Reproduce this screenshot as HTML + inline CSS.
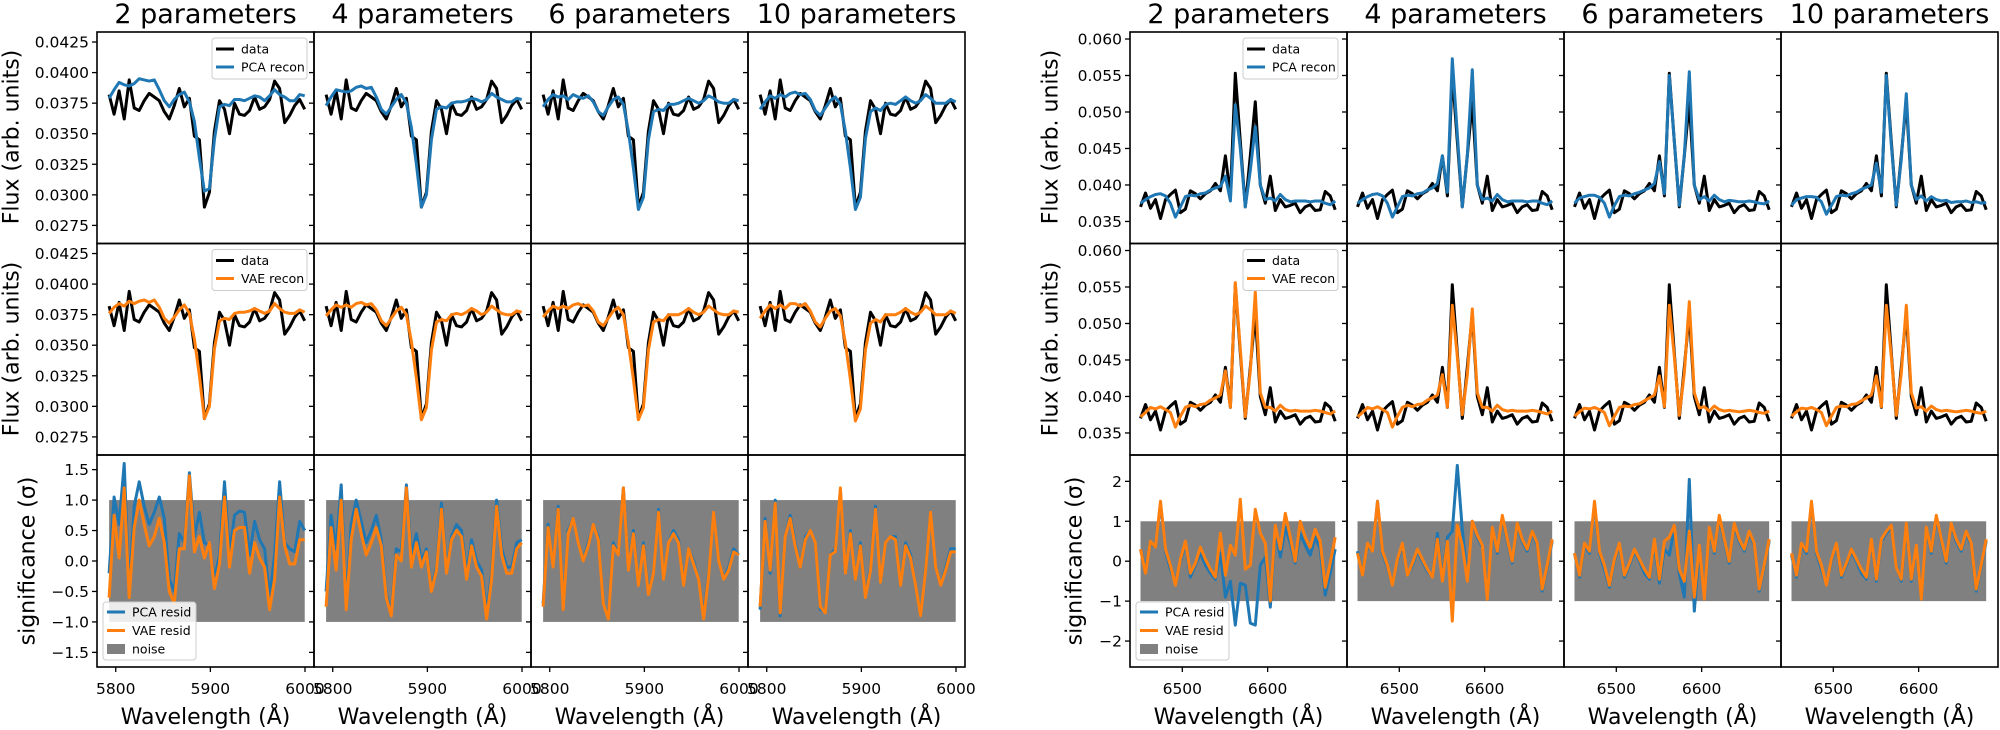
<!DOCTYPE html>
<html><head><meta charset="utf-8"><style>
html,body{margin:0;padding:0;background:#fff;}
svg{display:block;font-family:"DejaVu Sans","Liberation Sans",sans-serif;}
</style></head><body>
<svg id="c" width="2000" height="730" viewBox="0 0 2000 730"></svg>
<script>
// ---------- data ----------
const titles = ["2 parameters","4 parameters","6 parameters","10 parameters"];
// left (Na D region)
const leftStart = 5793, leftStep = 5.3;
const leftData = [0.0382,0.0366,0.0385,0.0362,0.0394,0.0371,0.0369,0.0377,0.0383,0.0380,0.0377,0.0368,0.0362,0.0373,0.0387,0.0372,0.0379,0.0348,0.0345,0.0290,0.0302,0.0352,0.0377,0.0370,0.0350,0.0375,0.0366,0.0365,0.0369,0.0380,0.0370,0.0372,0.0378,0.0393,0.0387,0.0359,0.0365,0.0373,0.0378,0.0370];
const leftPCA2 = [0.0379,0.0386,0.0392,0.0390,0.0389,0.0391,0.0395,0.0394,0.0393,0.0394,0.0386,0.0377,0.0372,0.0378,0.0382,0.0384,0.0376,0.0360,0.0330,0.0303,0.0305,0.0345,0.0372,0.0374,0.0373,0.0378,0.0378,0.0377,0.0379,0.0381,0.0380,0.0377,0.0381,0.0386,0.0382,0.0380,0.0377,0.0377,0.0382,0.0381];
const leftPCA4 = [0.0373,0.0380,0.0386,0.0385,0.0384,0.0385,0.0388,0.0389,0.0387,0.0388,0.0380,0.0370,0.0366,0.0372,0.0378,0.0382,0.0375,0.0355,0.0325,0.0290,0.0300,0.0345,0.0370,0.0372,0.0371,0.0375,0.0376,0.0376,0.0377,0.0379,0.0378,0.0376,0.0378,0.0383,0.0380,0.0378,0.0376,0.0376,0.0379,0.0378];
const leftPCA6 = [0.0372,0.0378,0.0382,0.0380,0.0381,0.0378,0.0382,0.0380,0.0379,0.0381,0.0376,0.0368,0.0365,0.0372,0.0378,0.0380,0.0374,0.0352,0.0322,0.0288,0.0298,0.0345,0.0368,0.0370,0.0369,0.0374,0.0374,0.0375,0.0377,0.0379,0.0377,0.0375,0.0377,0.0381,0.0379,0.0376,0.0375,0.0375,0.0378,0.0377];
const leftPCA10 = [0.0370,0.0376,0.0381,0.0379,0.0382,0.0380,0.0383,0.0384,0.0382,0.0383,0.0378,0.0369,0.0365,0.0371,0.0377,0.0380,0.0374,0.0352,0.0322,0.0288,0.0298,0.0346,0.0368,0.0371,0.0369,0.0374,0.0375,0.0374,0.0377,0.0380,0.0377,0.0375,0.0377,0.0382,0.0379,0.0375,0.0375,0.0375,0.0378,0.0376];
const leftVAE2 = [0.0376,0.0381,0.0384,0.0382,0.0386,0.0384,0.0386,0.0387,0.0385,0.0387,0.0381,0.0372,0.0368,0.0373,0.0379,0.0383,0.0376,0.0355,0.0325,0.0290,0.0300,0.0347,0.0370,0.0372,0.0371,0.0376,0.0377,0.0377,0.0378,0.0380,0.0378,0.0376,0.0378,0.0384,0.0380,0.0377,0.0376,0.0376,0.0379,0.0377];
const leftVAE4 = [0.0374,0.0379,0.0383,0.0381,0.0383,0.0381,0.0384,0.0385,0.0383,0.0384,0.0379,0.0370,0.0366,0.0372,0.0378,0.0381,0.0375,0.0353,0.0323,0.0289,0.0299,0.0346,0.0369,0.0371,0.0370,0.0375,0.0376,0.0375,0.0377,0.0380,0.0378,0.0375,0.0377,0.0382,0.0379,0.0376,0.0375,0.0375,0.0378,0.0377];
const leftVAE6 = [0.0373,0.0378,0.0382,0.0380,0.0382,0.0380,0.0383,0.0384,0.0382,0.0383,0.0378,0.0369,0.0366,0.0372,0.0378,0.0381,0.0375,0.0352,0.0322,0.0289,0.0299,0.0346,0.0369,0.0371,0.0370,0.0375,0.0375,0.0375,0.0377,0.0380,0.0377,0.0375,0.0377,0.0382,0.0379,0.0376,0.0375,0.0375,0.0378,0.0377];
const leftVAE10 = [0.0372,0.0378,0.0383,0.0380,0.0383,0.0380,0.0384,0.0384,0.0382,0.0384,0.0378,0.0369,0.0365,0.0372,0.0378,0.0380,0.0374,0.0352,0.0322,0.0288,0.0298,0.0346,0.0368,0.0371,0.0369,0.0375,0.0375,0.0375,0.0377,0.0380,0.0377,0.0375,0.0377,0.0382,0.0379,0.0375,0.0375,0.0375,0.0378,0.0376];
const leftResPCA2 = [-0.2,1.05,0.6,1.6,-0.5,0.9,1.3,0.9,0.6,0.8,1.05,0.7,-0.3,-0.5,0.45,0.3,1.45,0.4,0.8,0.3,0.25,-0.3,0.1,1.3,0.1,0.75,0.82,0.8,0.1,0.65,0.35,0.2,-0.6,0.1,1.3,0.3,0.2,0.15,0.65,0.5];
const leftResVAE2 = [-0.6,0.75,0.05,1.2,-0.6,0.55,1.0,0.6,0.25,0.4,0.7,0.3,-0.5,-0.7,0.2,0.2,1.4,0.15,0.4,0.05,0.3,-0.45,-0.05,1.05,-0.1,0.5,0.55,0.55,-0.2,0.3,0.05,-0.1,-0.8,-0.3,1.05,0.25,-0.05,-0.05,0.35,0.35];
const leftResPCA4 = [-0.5,0.75,0.2,1.25,-0.7,0.6,1.0,0.65,0.3,0.5,0.75,0.35,-0.55,-0.85,0.2,0.15,1.25,0.1,0.45,0.0,0.2,-0.45,-0.1,0.95,-0.15,0.4,0.6,0.5,-0.2,0.35,0.0,-0.15,-0.85,-0.2,1.0,0.2,-0.1,-0.1,0.3,0.35];
const leftResVAE4 = [-0.75,0.55,-0.15,1.0,-0.8,0.35,0.85,0.45,0.1,0.3,0.55,0.25,-0.6,-0.9,0.1,0.0,1.2,-0.1,0.3,-0.1,0.15,-0.5,-0.15,0.85,-0.2,0.35,0.5,0.4,-0.3,0.25,-0.1,-0.25,-0.95,-0.3,0.9,0.1,-0.2,-0.2,0.2,0.3];
const leftResPCA6 = [-0.7,0.6,-0.1,0.9,-0.8,0.5,0.7,0.3,0.0,0.3,0.6,0.4,-0.7,-0.9,0.3,0.1,1.2,-0.1,0.5,-0.4,0.3,-0.5,-0.2,0.85,-0.3,0.3,0.5,0.35,-0.4,0.2,0.0,-0.3,-0.9,-0.2,0.8,0.0,-0.3,-0.1,0.2,0.1];
const leftResVAE6 = [-0.75,0.55,-0.1,0.85,-0.8,0.45,0.7,0.3,0.0,0.25,0.6,0.35,-0.7,-0.95,0.25,0.1,1.2,-0.15,0.45,-0.4,0.25,-0.55,-0.2,0.8,-0.3,0.3,0.45,0.3,-0.4,0.2,-0.05,-0.3,-0.95,-0.25,0.8,0.0,-0.3,-0.15,0.15,0.1];
const leftResPCA10 = [-0.8,0.7,-0.2,1.0,-0.9,0.4,0.75,0.3,-0.1,0.4,0.5,0.3,-0.8,-0.8,0.1,0.2,1.15,-0.2,0.5,-0.3,0.3,-0.6,-0.1,0.9,-0.35,0.3,0.4,0.4,-0.4,0.3,0.1,-0.4,-0.9,-0.1,0.8,-0.1,-0.4,-0.1,0.2,0.2];
const leftResVAE10 = [-0.75,0.65,-0.15,0.95,-0.85,0.4,0.7,0.25,-0.1,0.35,0.5,0.3,-0.75,-0.85,0.1,0.15,1.2,-0.2,0.45,-0.3,0.25,-0.6,-0.15,0.85,-0.35,0.3,0.4,0.35,-0.4,0.25,0.05,-0.4,-0.9,-0.15,0.8,-0.1,-0.4,-0.15,0.15,0.15];
// right (H-alpha region)
const rightStart = 6451, rightStep = 5.85;
const rightData = [0.0370,0.0389,0.0368,0.0380,0.0354,0.0380,0.0387,0.0393,0.0362,0.0367,0.0392,0.0388,0.0381,0.0388,0.0392,0.0402,0.0392,0.0440,0.0385,0.0553,0.0460,0.0370,0.0440,0.0514,0.0400,0.0375,0.0412,0.0365,0.0380,0.0370,0.0372,0.0375,0.0362,0.0370,0.0373,0.0365,0.0366,0.0391,0.0385,0.0366];
const rightPCA2 = [0.0375,0.0380,0.0384,0.0387,0.0388,0.0385,0.0375,0.0356,0.0370,0.0384,0.0386,0.0385,0.0388,0.0389,0.0393,0.0396,0.0398,0.0412,0.0378,0.0510,0.0450,0.0370,0.0420,0.0480,0.0400,0.0380,0.0382,0.0378,0.0387,0.0380,0.0377,0.0378,0.0378,0.0378,0.0377,0.0378,0.0378,0.0375,0.0373,0.0378];
const rightPCA4 = [0.0375,0.0380,0.0384,0.0387,0.0388,0.0385,0.0375,0.0356,0.0370,0.0384,0.0386,0.0385,0.0388,0.0389,0.0393,0.0396,0.0402,0.0440,0.0390,0.0573,0.0470,0.0370,0.0440,0.0558,0.0400,0.0380,0.0382,0.0378,0.0387,0.0380,0.0377,0.0378,0.0378,0.0378,0.0377,0.0378,0.0378,0.0375,0.0373,0.0378];
const rightPCA6 = [0.0375,0.0382,0.0384,0.0386,0.0386,0.0383,0.0375,0.0356,0.0372,0.0384,0.0386,0.0385,0.0388,0.0390,0.0393,0.0396,0.0402,0.0432,0.0388,0.0550,0.0460,0.0372,0.0440,0.0555,0.0400,0.0380,0.0384,0.0378,0.0386,0.0380,0.0377,0.0379,0.0378,0.0377,0.0377,0.0378,0.0377,0.0375,0.0374,0.0378];
const rightPCA10 = [0.0372,0.0380,0.0382,0.0384,0.0384,0.0383,0.0377,0.0360,0.0372,0.0384,0.0386,0.0385,0.0388,0.0390,0.0394,0.0397,0.0400,0.0430,0.0390,0.0550,0.0455,0.0372,0.0435,0.0525,0.0400,0.0380,0.0385,0.0378,0.0384,0.0380,0.0378,0.0379,0.0376,0.0377,0.0377,0.0378,0.0376,0.0377,0.0375,0.0376];
const rightVAE2 = [0.0372,0.0378,0.0385,0.0383,0.0386,0.0382,0.0378,0.0358,0.0373,0.0385,0.0388,0.0386,0.0389,0.0390,0.0395,0.0398,0.0402,0.0435,0.0385,0.0556,0.0465,0.0372,0.0435,0.0543,0.0405,0.0385,0.0385,0.0380,0.0388,0.0382,0.0380,0.0381,0.0380,0.0380,0.0380,0.0381,0.0380,0.0378,0.0376,0.0380];
const rightVAE4 = [0.0372,0.0378,0.0385,0.0383,0.0386,0.0382,0.0378,0.0358,0.0373,0.0385,0.0388,0.0386,0.0389,0.0390,0.0395,0.0398,0.0402,0.0430,0.0385,0.0525,0.0455,0.0375,0.0430,0.0520,0.0405,0.0385,0.0385,0.0380,0.0388,0.0382,0.0380,0.0381,0.0380,0.0380,0.0380,0.0381,0.0380,0.0378,0.0376,0.0380];
const rightVAE6 = [0.0373,0.0379,0.0384,0.0383,0.0385,0.0382,0.0378,0.0360,0.0373,0.0385,0.0387,0.0386,0.0389,0.0390,0.0394,0.0398,0.0402,0.0428,0.0386,0.0525,0.0455,0.0374,0.0432,0.0530,0.0405,0.0384,0.0386,0.0380,0.0387,0.0382,0.0380,0.0381,0.0380,0.0379,0.0380,0.0381,0.0380,0.0378,0.0377,0.0380];
const rightVAE10 = [0.0373,0.0379,0.0384,0.0383,0.0385,0.0382,0.0378,0.0360,0.0373,0.0385,0.0387,0.0386,0.0389,0.0390,0.0394,0.0398,0.0402,0.0428,0.0386,0.0525,0.0455,0.0374,0.0432,0.0525,0.0405,0.0384,0.0386,0.0380,0.0387,0.0382,0.0380,0.0381,0.0380,0.0379,0.0380,0.0381,0.0380,0.0378,0.0377,0.0380];
const rightResPCA2 = [0.3,-0.2,0.45,0.35,1.45,0.25,-0.2,-0.55,0.0,0.45,-0.4,-0.1,0.2,-0.1,-0.3,-0.45,0.2,-0.9,-0.5,-1.6,-0.55,-0.6,-1.55,-1.6,-0.1,0.1,-1.15,0.75,0.1,0.85,0.45,-0.05,0.7,0.4,0.15,0.6,0.3,-0.85,-0.3,0.3];
const rightResVAE2 = [0.3,-0.3,0.5,0.35,1.5,0.3,-0.1,-0.6,0.05,0.5,-0.3,-0.05,0.35,0.05,-0.2,-0.4,0.7,-0.35,0.4,0.15,1.55,-0.2,-0.1,1.3,0.7,0.45,-1.0,0.9,0.3,1.2,0.6,0.0,1.0,0.6,0.35,0.8,0.5,-0.65,-0.05,0.6];
const rightResPCA4 = [0.25,-0.35,0.4,0.25,1.5,0.2,-0.15,-0.6,0.0,0.4,-0.35,-0.1,0.25,0.0,-0.25,-0.4,0.7,-0.45,0.6,0.75,2.4,0.8,-0.4,1.0,0.6,0.35,-0.9,0.8,0.2,1.1,0.5,-0.05,0.9,0.5,0.25,0.7,0.4,-0.75,-0.15,0.5];
const rightResVAE4 = [0.2,-0.35,0.45,0.25,1.5,0.25,-0.1,-0.6,0.05,0.45,-0.35,-0.05,0.3,0.05,-0.2,-0.4,0.55,-0.5,0.5,-1.5,0.9,0.4,-0.5,1.0,0.65,0.4,-0.95,0.85,0.25,1.15,0.55,0.0,0.95,0.55,0.3,0.75,0.45,-0.7,-0.1,0.55];
const rightResPCA6 = [0.2,-0.4,0.4,0.2,1.45,0.2,-0.2,-0.65,0.0,0.4,-0.4,-0.1,0.25,0.0,-0.3,-0.45,0.45,-0.55,0.3,0.15,0.8,-0.3,-0.9,2.05,-1.25,0.3,-0.95,0.8,0.2,1.1,0.5,-0.05,0.9,0.5,0.25,0.7,0.4,-0.75,-0.15,0.5];
const rightResVAE6 = [0.2,-0.35,0.45,0.25,1.5,0.25,-0.1,-0.6,0.05,0.45,-0.35,-0.05,0.3,0.05,-0.2,-0.4,0.55,-0.45,0.5,0.6,0.9,-0.2,-0.5,0.75,-0.9,0.4,-0.95,0.85,0.25,1.15,0.55,0.0,0.95,0.55,0.3,0.75,0.45,-0.7,-0.1,0.55];
const rightResPCA10 = [0.15,-0.4,0.4,0.2,1.45,0.2,-0.2,-0.6,0.0,0.4,-0.4,-0.1,0.25,0.0,-0.3,-0.45,0.5,-0.5,0.5,0.7,0.85,-0.1,-0.5,0.9,-0.5,0.35,-0.95,0.8,0.2,1.1,0.5,-0.05,0.9,0.5,0.25,0.7,0.4,-0.75,-0.15,0.5];
const rightResVAE10 = [0.2,-0.35,0.45,0.25,1.5,0.25,-0.1,-0.6,0.05,0.45,-0.35,-0.05,0.3,0.05,-0.2,-0.4,0.55,-0.45,0.55,0.75,0.9,-0.15,-0.45,0.95,-0.45,0.4,-0.95,0.85,0.25,1.15,0.55,0.0,0.95,0.55,0.3,0.75,0.45,-0.7,-0.1,0.55];
const leftFluxTicks = [0.0275,0.0300,0.0325,0.0350,0.0375,0.0400,0.0425];
const rightFluxTicks = [0.035,0.040,0.045,0.050,0.055,0.060];
const leftSigTicks = [-1.5,-1.0,-0.5,0.0,0.5,1.0,1.5];
const rightSigTicks = [-2,-1,0,1,2];
const leftXTicks = [5800,5900,6000];
const rightXTicks = [6500,6600];

// ---------- drawing ----------
const NS = "http://www.w3.org/2000/svg";
const svg = document.getElementById("c");
function mk(tag, attrs, parent, text){
  const e = document.createElementNS(NS, tag);
  for (const k in attrs) e.setAttribute(k, attrs[k]);
  if (text !== undefined) e.textContent = text;
  (parent || svg).appendChild(e);
  return e;
}
const BLUE="#1f77b4", ORANGE="#ff7f0e";
const PW = 217, ROWS = [32, 243.5, 455, 667];
const figs = [
  {side:"left", x0:97, start:leftStart, step:leftStep, xr:[5780.2,6009.5], fr:[0.02602,0.04332], sr:[-1.74,1.74],
   data:leftData, pca:[leftPCA2,leftPCA4,leftPCA6,leftPCA10], vae:[leftVAE2,leftVAE4,leftVAE6,leftVAE10],
   rp:[leftResPCA2,leftResPCA4,leftResPCA6,leftResPCA10], rv:[leftResVAE2,leftResVAE4,leftResVAE6,leftResVAE10],
   fticks:leftFluxTicks, fdec:4, sticks:leftSigTicks, sdec:1, xticks:leftXTicks, flabX:12, slabX:28},
  {side:"right", x0:1130, start:rightStart, step:rightStep, xr:[6438.7,6693], fr:[0.03198,0.06096], sr:[-2.65,2.66],
   data:rightData, pca:[rightPCA2,rightPCA4,rightPCA6,rightPCA10], vae:[rightVAE2,rightVAE4,rightVAE6,rightVAE10],
   rp:[rightResPCA2,rightResPCA4,rightResPCA6,rightResPCA10], rv:[rightResVAE2,rightResVAE4,rightResVAE6,rightResVAE10],
   fticks:rightFluxTicks, fdec:3, sticks:rightSigTicks, sdec:0, xticks:rightXTicks, flabX:1051, slabX:1075}
];
function fmt(v, d){ const s = Math.abs(v).toFixed(d); return (v < -1e-9 ? "\u2212" : "") + s; }

figs.forEach(f => {
  const wl = f.data.map((_, i) => f.start + f.step * i);
  for (let c = 0; c < 4; c++) {
    const px = f.x0 + c * PW;
    const sx = v => px + (v - f.xr[0]) / (f.xr[1] - f.xr[0]) * PW;
    const g = mk("g", {});
    
    
    const t = mk("text", {x: px + PW/2, y: 23, "text-anchor":"middle", "font-size": 27}, g, titles[c]);
    
    
    for (let r = 0; r < 3; r++) {
      const top = ROWS[r], bot = ROWS[r+1], h = bot - top;
      const rng = r < 2 ? f.fr : f.sr;
      const sy = v => bot - (v - rng[0]) / (rng[1] - rng[0]) * h;
      const clipId = "cl" + f.side + c + r;
      const cp = mk("clipPath", {id: clipId}, g);
      mk("rect", {x: px, y: top, width: PW, height: h}, cp);
      const pg = mk("g", {"clip-path": "url(#" + clipId + ")"}, g);
      
      
      const line = (arr, col, name) => {
        const p = mk("polyline", {points: arr.map((v,i)=> sx(wl[i]).toFixed(1)+","+sy(v).toFixed(1)).join(" "), fill:"none", stroke: col, "stroke-width": 3, "stroke-linejoin":"round"}, pg);
        
        
      };
      if (r < 2) {
        line(f.data, "#000", "data-line");
        line(r === 0 ? f.pca[c] : f.vae[c], r === 0 ? BLUE : ORANGE, r === 0 ? "pca-recon-line" : "vae-recon-line");
      } else {
        const nb = mk("rect", {x: sx(wl[0]), y: sy(1), width: sx(wl[wl.length-1]) - sx(wl[0]), height: sy(-1) - sy(1), fill: "#808080"}, pg);
        
        
        line(f.rp[c], BLUE, "pca-resid-line");
        line(f.rv[c], ORANGE, "vae-resid-line");
      }
      // frame
      const fr = mk("rect", {x: px, y: top, width: PW, height: h, fill: "none", stroke: "#000", "stroke-width": 1.6}, g);
      
      
      // y ticks
      const ticks = r < 2 ? f.fticks : f.sticks;
      ticks.forEach(tv => {
        const y = sy(tv);
        mk("line", {x1: px - 5, x2: px, y1: y, y2: y, stroke: "#000", "stroke-width": 1.3}, g);
        if (c === 0) {
          const tl = mk("text", {x: px - 8, y: y + 5.5, "text-anchor": "end", "font-size": 15.5}, g, fmt(tv, r < 2 ? f.fdec : f.sdec));
          
          
        }
      });
      // x ticks on bottom row
      if (r === 2) {
        f.xticks.forEach(xv => {
          const x = sx(xv);
          mk("line", {x1: x, x2: x, y1: bot, y2: bot + 5, stroke: "#000", "stroke-width": 1.3}, g);
          const xl = mk("text", {x: x, y: bot + 27, "text-anchor": "middle", "font-size": 15.5}, g, String(xv));
          
          
        });
        const xt = mk("text", {x: px + PW/2, y: 724, "text-anchor": "middle", "font-size": 22}, g, "Wavelength (\u00c5)");
        
        
      }
    }
  }
  // y axis titles
  [[137,"Flux (arb. units)",f.flabX],[349,"Flux (arb. units)",f.flabX],[561,"significance (\u03c3)",f.slabX]].forEach(([cy,txt,cx]) => {
    const yt = mk("text", {x: cx, y: cy, "text-anchor": "middle", "font-size": 22, "dominant-baseline": "central", transform: "rotate(-90 " + cx + " " + cy + ")"}, svg, txt);
    
    
  });
  // legends
  const lx = f.side === "left" ? 212 : 1243;
  [[32, "PCA recon", BLUE], [243.5, "VAE recon", ORANGE]].forEach(([top, lab, col]) => {
    const lg = mk("g", {});
    
    
    mk("rect", {x: lx, y: top + 6, width: 95, height: 41, rx: 3, fill: "#fff", "fill-opacity": 0.85, stroke: "#ccc"}, lg);
    [["data","#000"],[lab,col]].forEach(([t,cl],k) => {
      const yy = top + 17 + k*18;
      mk("line", {x1: lx + 4, x2: lx + 22, y1: yy, y2: yy, stroke: cl, "stroke-width": 3}, lg);
      const e = mk("text", {x: lx + 29, y: yy + 4.5, "font-size": 12.5}, lg, t);
      
      
    });
  });
  const bx = f.side === "left" ? 103 : 1136;
  const bl = mk("g", {});
  
  
  mk("rect", {x: bx, y: 602, width: 93, height: 58, rx: 3, fill: "#fff", "fill-opacity": 0.85, stroke: "#ccc"}, bl);
  [["PCA resid",BLUE,"l"],["VAE resid",ORANGE,"l"],["noise","#808080","r"]].forEach(([t,cl,kind],k) => {
    const yy = 612 + k*18.5;
    if (kind === "l") mk("line", {x1: bx + 4, x2: bx + 22, y1: yy, y2: yy, stroke: cl, "stroke-width": 3}, bl);
    else mk("rect", {x: bx + 4, y: yy - 5, width: 18, height: 10, fill: cl}, bl);
    const e = mk("text", {x: bx + 29, y: yy + 4.5, "font-size": 12.5}, bl, t);
    
    
  });
});
</script>
</body></html>
